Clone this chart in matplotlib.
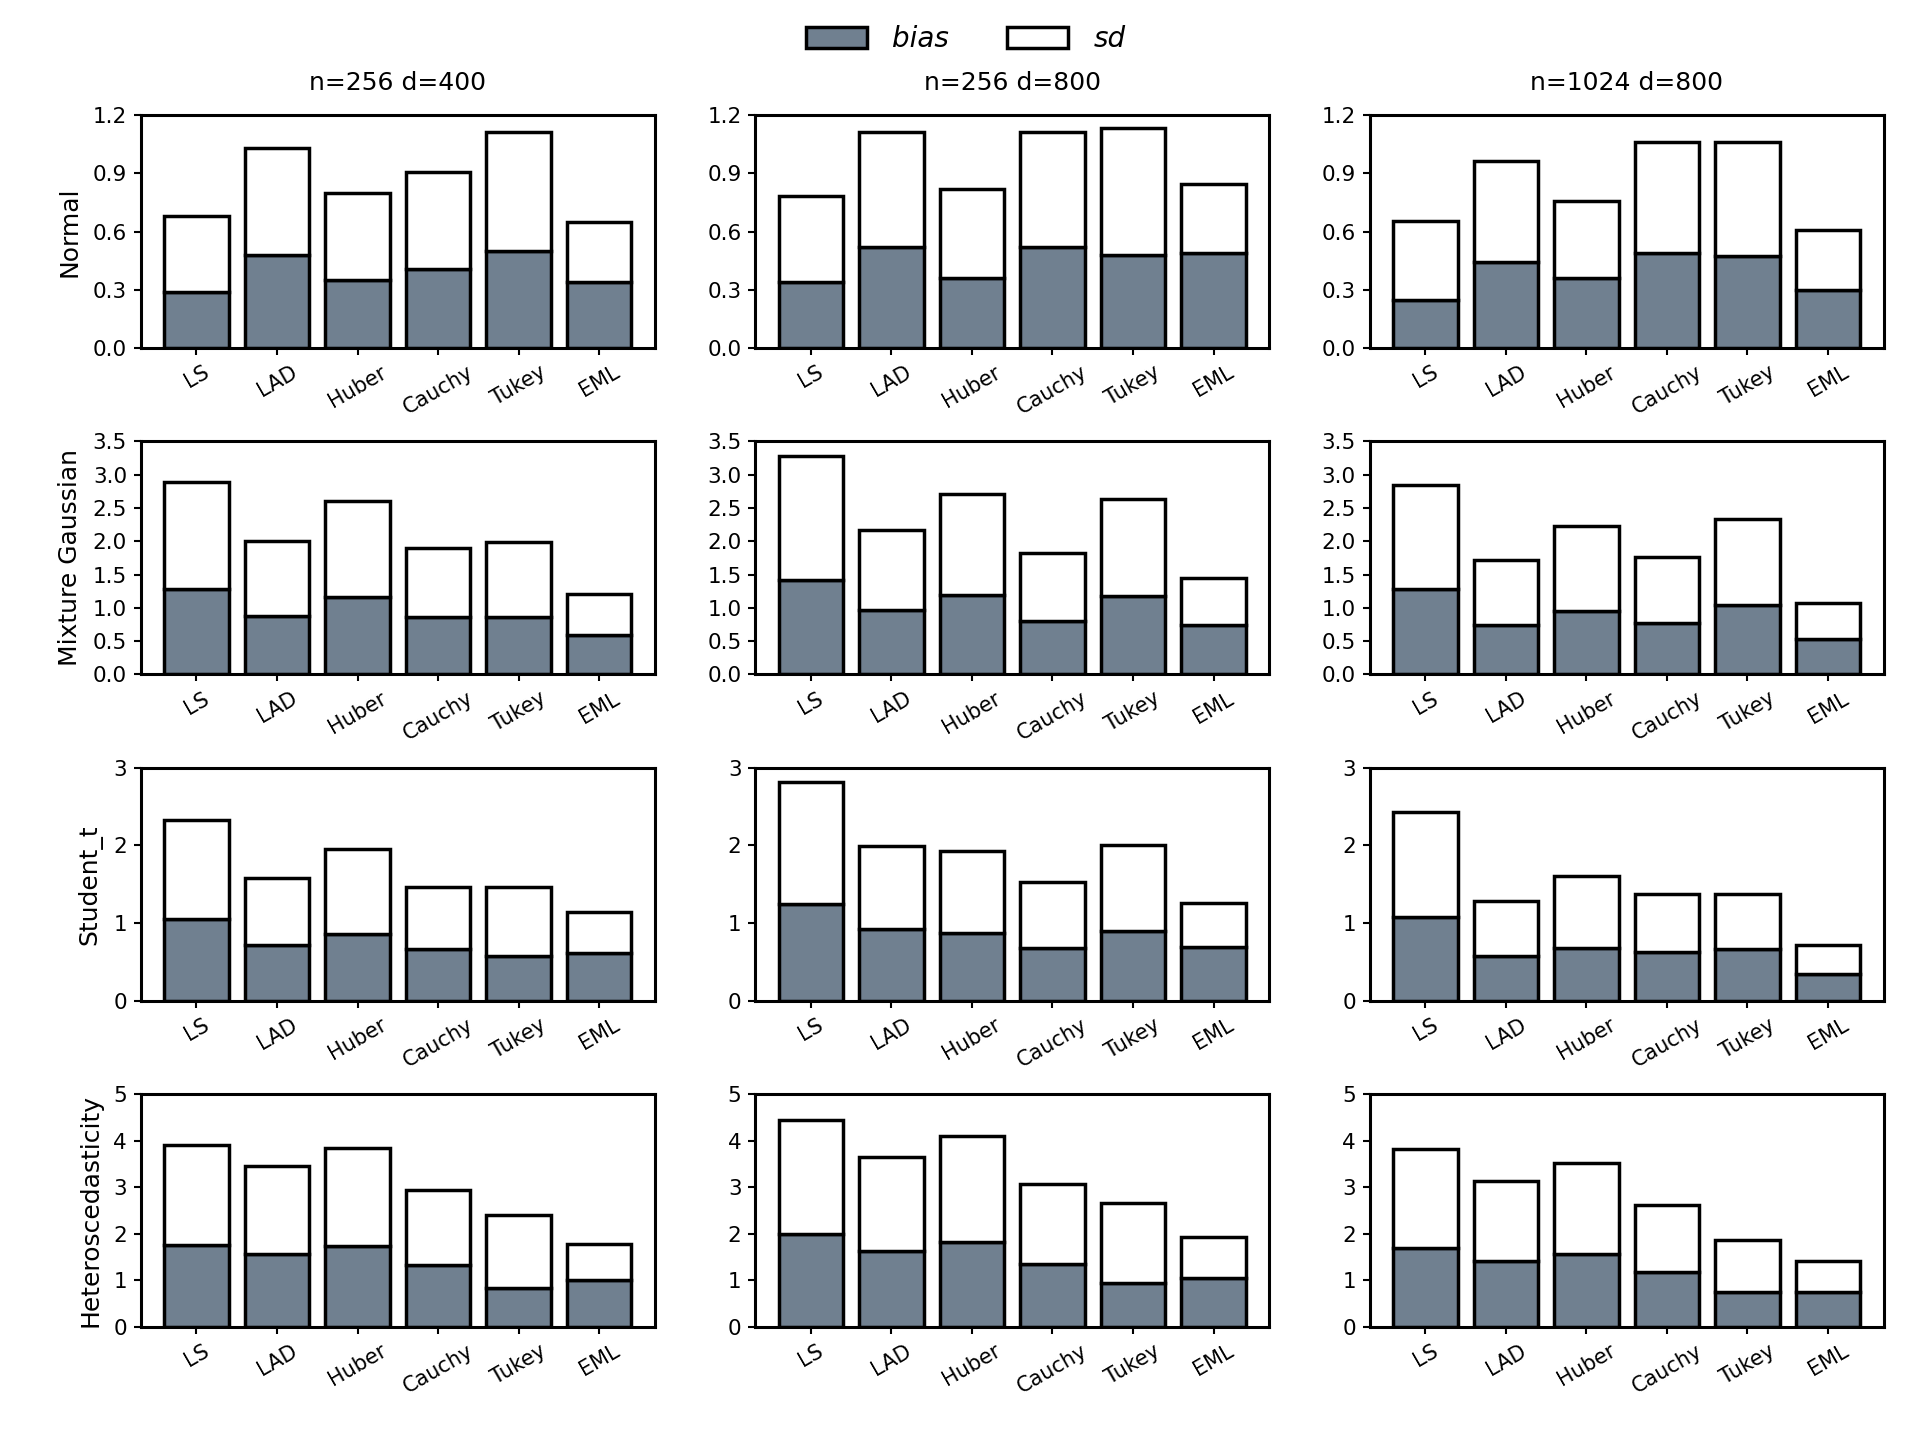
import matplotlib
matplotlib.use("Agg")
import matplotlib.pyplot as plt
import numpy as np
from matplotlib.patches import Patch

methods = ["LS", "LAD", "Huber", "Cauchy", "Tukey", "EML"]
settings = ["n=256 d=400", "n=256 d=800", "n=1024 d=800"]
distributions = ["Normal", "Mixture Gaussian", "Student_t", "Heteroscedasticity"]

# bias values and bias+sd totals [setting][method]
bias_normal = [[0.29, 0.48, 0.35, 0.41, 0.50, 0.34],
               [0.34, 0.52, 0.36, 0.52, 0.48, 0.49],
               [0.25, 0.445, 0.36, 0.49, 0.476, 0.30]]
total_normal = [[0.68, 1.03, 0.80, 0.905, 1.115, 0.65],
                [0.785, 1.112, 0.82, 1.116, 1.133, 0.848],
                [0.657, 0.966, 0.76, 1.06, 1.064, 0.61]]

bias_mix = [[1.29, 0.88, 1.16, 0.86, 0.87, 0.60],
            [1.42, 0.97, 1.19, 0.80, 1.18, 0.74],
            [1.28, 0.74, 0.95, 0.78, 1.04, 0.53]]
total_mix = [[2.89, 2.00, 2.61, 1.90, 1.99, 1.21],
             [3.28, 2.17, 2.71, 1.82, 2.64, 1.45],
             [2.85, 1.72, 2.23, 1.76, 2.33, 1.08]]

bias_t = [[1.05, 0.72, 0.865, 0.67, 0.58, 0.62],
          [1.24, 0.92, 0.87, 0.68, 0.90, 0.69],
          [1.08, 0.58, 0.68, 0.63, 0.66, 0.35]]
total_t = [[2.33, 1.58, 1.95, 1.47, 1.47, 1.14],
           [2.81, 1.99, 1.93, 1.53, 2.01, 1.26],
           [2.43, 1.29, 1.60, 1.38, 1.37, 0.72]]

bias_het = [[1.76, 1.56, 1.73, 1.32, 0.83, 1.00],
            [1.99, 1.62, 1.83, 1.36, 0.94, 1.06],
            [1.70, 1.41, 1.56, 1.17, 0.74, 0.74]]
total_het = [[3.90, 3.46, 3.84, 2.94, 2.40, 1.78],
             [4.45, 3.65, 4.10, 3.06, 2.66, 1.92],
             [3.82, 3.14, 3.52, 2.62, 1.86, 1.42]]

bias_all = [bias_normal, bias_mix, bias_t, bias_het]
total_all = [total_normal, total_mix, total_t, total_het]
ylims = [1.2, 3.5, 3.0, 5.0]
yticks = [[0.0, 0.3, 0.6, 0.9, 1.2],
          [0.0, 0.5, 1.0, 1.5, 2.0, 2.5, 3.0, 3.5],
          [0, 1, 2, 3],
          [0, 1, 2, 3, 4, 5]]

bias_color = "#708090"

fig, axes = plt.subplots(4, 3, figsize=(19.2, 14.4), dpi=100)
fig.subplots_adjust(left=0.0734, right=0.981, top=0.920, bottom=0.0785,
                    wspace=0.196, hspace=0.40)

x = np.arange(len(methods))
for r in range(4):
    for c in range(3):
        ax = axes[r, c]
        b = np.array(bias_all[r][c])
        t = np.array(total_all[r][c])
        sd = t - b
        ax.bar(x, b, width=0.8, color=bias_color, edgecolor="black", linewidth=2.5)
        ax.bar(x, sd, bottom=b, width=0.8, color="white", edgecolor="black", linewidth=2.5)
        ax.set_ylim(0, ylims[r])
        ax.set_yticks(yticks[r])
        if r <= 1:
            ax.set_yticklabels([f"{v:.1f}" for v in yticks[r]])
        else:
            ax.set_yticklabels([f"{int(v)}" for v in yticks[r]])
        ax.set_xticks(x)
        ax.set_xticklabels(methods, rotation=30, ha="center")
        ax.tick_params(axis="x", labelsize=15, width=1.5, length=5, pad=5)
        ax.tick_params(axis="y", labelsize=15.5, width=1.5, length=5, pad=5)
        for sp in ax.spines.values():
            sp.set_linewidth(2.2)
        if r == 0:
            ax.set_title(settings[c], fontsize=18, pad=18)
        if c == 0:
            ax.set_ylabel(distributions[r], fontsize=18, labelpad=8)

handles = [Patch(facecolor=bias_color, edgecolor="black", linewidth=2.5, label="bias"),
           Patch(facecolor="white", edgecolor="black", linewidth=2.5, label="sd")]
fig.legend(handles=handles, loc="upper center", ncol=2, frameon=False,
           bbox_to_anchor=(0.503, 1.0), prop={"style": "italic", "size": 20},
           handlelength=2.2, handleheight=0.8, handletextpad=0.9, columnspacing=2.1)

fig.savefig("out.png", dpi=100)
